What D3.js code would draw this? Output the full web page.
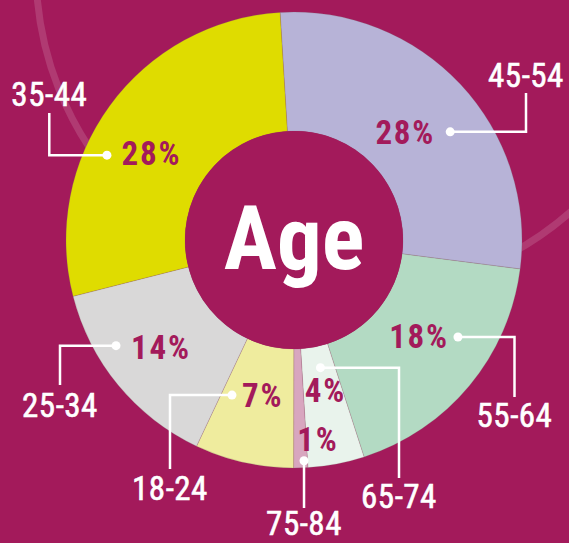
<!DOCTYPE html>
<html>
<head>
<meta charset="utf-8">
<script src="https://cdn.jsdelivr.net/npm/d3@7"></script>
<style>
  html, body { margin: 0; padding: 0; background: #a31a5b; }
  svg { display: block; }
</style>
</head>
<body>
<script>
// data
var ages = ["45-54", "55-64", "65-74", "75-84", "18-24", "25-34", "35-44"];
var shares = [28, 18, 4, 1, 7, 14, 28];
var centerTitle = "Age";

var sliceColors = ["#b7b3d7", "#b3dac3", "#e9f3ec", "#d8a6bf", "#efec9e", "#d9d8d8", "#dfdc00"];

// callout layout (angle in degrees clockwise from top, radius from center)
var callouts = [
  {ang: 55.3, r: 190, elbowX: 526, endY: 93, labelY: 87, pdx: -15, pdy: 12, anchor: "end"},
  {ang: 120.6, r: 190.5, elbowX: 514.5, endY: 397, labelY: 427, pdx: -9, pdy: 11, anchor: "end"},
  {ang: 168.3, r: 130.4, elbowX: 399, endY: 478, labelY: 508, pdx: 5, pdy: 34, anchor: "middle"},
  {ang: 177.4, r: 221, elbowX: null, endY: 508, labelY: 535, pdx: 14, pdy: -10, anchor: "middle"},
  {ang: 201.8, r: 167, elbowX: 170, endY: 469, labelY: 500, pdx: 10, pdy: 12, anchor: "start"},
  {ang: 239.3, r: 207, elbowX: 60, endY: 385, labelY: 417, pdx: 15, pdy: 13, anchor: "start"},
  {ang: 294.4, r: 205.4, elbowX: 49.3, endY: 113, labelY: 106, pdx: 14.5, pdy: 10, anchor: "start"}
];

var width = 569, height = 543;
var cx = 294, cy = 240;
var outerR = 228, innerR = 109;
var bg = "#a31a5b";
var narrow = "'Liberation Sans Narrow', 'Roboto Condensed', 'DejaVu Sans Condensed', sans-serif";

var svg = d3.select("body").append("svg")
  .attr("width", width)
  .attr("height", height);

svg.append("rect")
  .attr("width", width)
  .attr("height", height)
  .attr("fill", bg);

// faint background ring
svg.append("circle")
  .attr("cx", 358)
  .attr("cy", -30)
  .attr("r", 322)
  .attr("fill", "none")
  .attr("stroke", "#fff")
  .attr("stroke-opacity", 0.14)
  .attr("stroke-width", 7);

var rad = Math.PI / 180;
var pie = d3.pie()
  .sort(null)
  .value(d => d)
  .startAngle(-3.5 * rad)
  .endAngle(356.5 * rad);

var arc = d3.arc()
  .innerRadius(innerR)
  .outerRadius(outerR);

var color = d3.scaleOrdinal().domain(ages).range(sliceColors);

var g = svg.append("g")
  .attr("transform", `translate(${cx},${cy})`);

var arcs = pie(shares);

g.selectAll("path.slice")
  .data(arcs)
  .enter()
  .append("path")
  .attr("class", "slice")
  .attr("d", arc)
  .attr("fill", (d, i) => color(ages[i]))
  .attr("stroke", "rgba(120,100,100,0.35)")
  .attr("stroke-width", 0.6);

// center disc + title
g.append("circle")
  .attr("r", innerR)
  .attr("fill", bg);

g.append("text")
  .attr("x", 0)
  .attr("y", 29)
  .attr("text-anchor", "middle")
  .attr("fill", "#fff")
  .style("font-family", narrow)
  .style("font-weight", "bold")
  .style("font-size", "89px")
  .text(centerTitle);

// callouts
var dotPos = c => [cx + c.r * Math.sin(c.ang * rad), cy - c.r * Math.cos(c.ang * rad)];

var callG = svg.append("g");

callouts.forEach(function (c, i) {
  var p = dotPos(c);
  var ex = c.elbowX == null ? p[0] : c.elbowX;

  callG.append("path")
    .attr("d", `M${p[0]},${p[1]}H${ex}V${c.endY}`)
    .attr("fill", "none")
    .attr("stroke", "#fff")
    .attr("stroke-width", 2.5);

  callG.append("circle")
    .attr("cx", p[0])
    .attr("cy", p[1])
    .attr("r", 4.5)
    .attr("fill", "#fff");

  callG.append("text")
    .attr("x", ex)
    .attr("y", c.labelY)
    .attr("text-anchor", "middle")
    .attr("fill", "#fff")
    .attr("stroke", "#fff")
    .attr("stroke-width", 0.6)
    .style("font-family", narrow)
    .style("font-size", "33px")
    .style("letter-spacing", "0.5px")
    .text(ages[i]);

  callG.append("text")
    .attr("x", p[0] + c.pdx)
    .attr("y", p[1] + c.pdy)
    .attr("text-anchor", c.anchor)
    .attr("fill", bg)
    .style("font-family", narrow)
    .style("font-weight", "bold")
    .style("font-size", "33px")
    .style("letter-spacing", "1.8px")
    .text(shares[i] + "%");
});
</script>
</body>
</html>
